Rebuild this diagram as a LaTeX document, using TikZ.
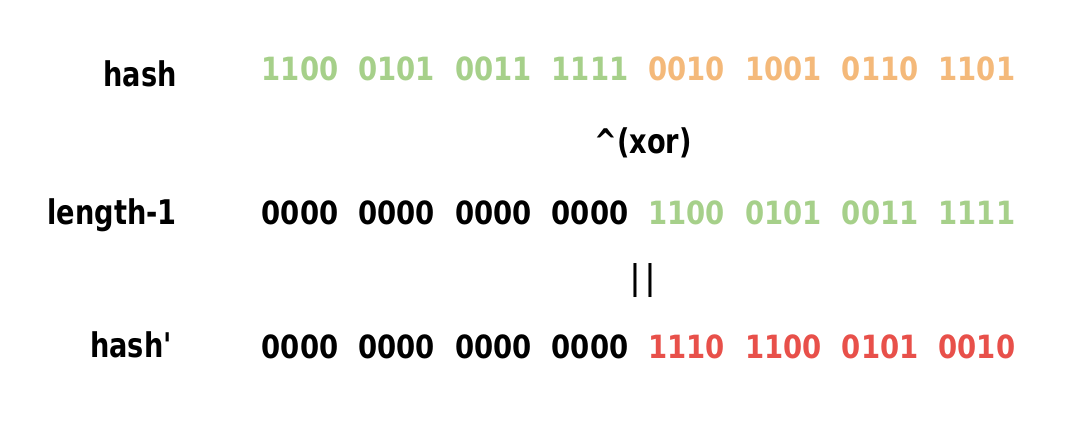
\documentclass[tikz,border=0pt]{standalone}
\usepackage{fontspec}
\newfontfamily\bitfont{DejaVu Sans}[FakeStretch=0.86]
\newfontfamily\lblfont{DejaVu Sans}[FakeStretch=0.8]
\definecolor{hgreen}{HTML}{A6D08A}
\definecolor{horange}{HTML}{F4B97A}
\definecolor{hred}{HTML}{E8504A}
\tikzset{
  bits/.style={font=\bitfont\fontsize{32}{38}\selectfont\bfseries, inner sep=0pt, anchor=base},
  lbl/.style={font=\lblfont\fontsize{34}{40}\selectfont\bfseries, inner sep=0pt, anchor=base},
}
\begin{document}
\begin{tikzpicture}[x=1pt,y=-1pt]
\useasboundingbox[fill=white] (0,0) rectangle (1080,429);
% labels
\node[lbl] (lh) at (140,86) {hash};
\node[lbl] (ll) at (112,224) {length-1};
\node[lbl] (lp) at (132,357) {hash\textquotesingle};
% row 1
\node[bits,text=hgreen] (a1) at (300.0,80.5) {1100};
\node[bits,text=hgreen] (a2) at (396.7,80.5) {0101};
\node[bits,text=hgreen] (a3) at (493.4,80.5) {0011};
\node[bits,text=hgreen] (a4) at (590.1,80.5) {1111};
\node[bits,text=horange] (a5) at (686.8,80.5) {0010};
\node[bits,text=horange] (a6) at (783.5,80.5) {1001};
\node[bits,text=horange] (a7) at (880.2,80.5) {0110};
\node[bits,text=horange] (a8) at (976.9,80.5) {1101};
% xor
\node[lbl] (xor) at (643,153) {\textasciicircum(xor)};
% row 2
\node[bits] (b1) at (300.0,224) {0000};
\node[bits] (b2) at (396.7,224) {0000};
\node[bits] (b3) at (493.4,224) {0000};
\node[bits] (b4) at (590.1,224) {0000};
\node[bits,text=hgreen] (b5) at (686.8,224) {1100};
\node[bits,text=hgreen] (b6) at (783.5,224) {0101};
\node[bits,text=hgreen] (b7) at (880.2,224) {0011};
\node[bits,text=hgreen] (b8) at (976.9,224) {1111};
% equals
\node[lbl] (eq) at (643,289) {|\kern5pt|};
% row 3
\node[bits] (c1) at (300.0,358) {0000};
\node[bits] (c2) at (396.7,358) {0000};
\node[bits] (c3) at (493.4,358) {0000};
\node[bits] (c4) at (590.1,358) {0000};
\node[bits,text=hred] (c5) at (686.8,358) {1110};
\node[bits,text=hred] (c6) at (783.5,358) {1100};
\node[bits,text=hred] (c7) at (880.2,358) {0101};
\node[bits,text=hred] (c8) at (976.9,358) {0010};
\end{tikzpicture}
\end{document}
